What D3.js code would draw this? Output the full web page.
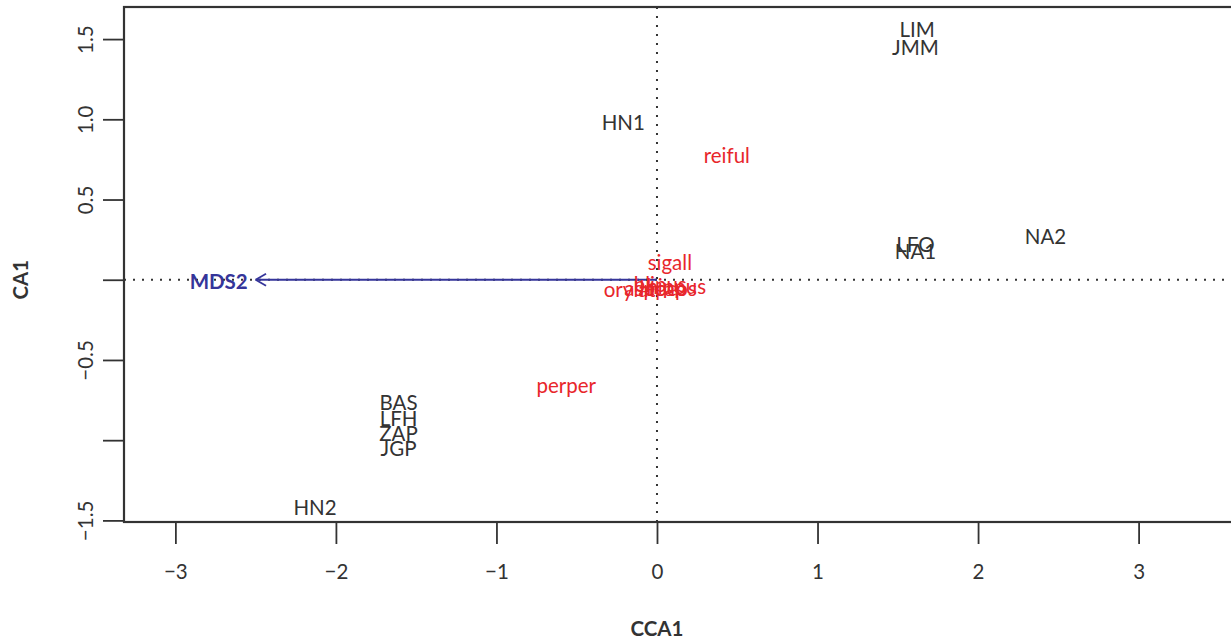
<!DOCTYPE html>
<html>
<head>
<meta charset="utf-8">
<script src="https://cdn.jsdelivr.net/npm/d3@7"></script>
<style>
  body { margin: 0; background: #fff; }
  svg { display: block; font-family: Lato, "Noto Sans", sans-serif; }
</style>
</head>
<body>
<svg id="chart" width="1231" height="643"></svg>
<script>
// ---- data ----
const siteNames = ["LIM", "JMM", "HN1", "LFO", "NA1", "NA2", "BAS", "LFH", "ZAP", "JGP", "HN2"];
const siteX     = [1.62, 1.61, -0.21, 1.61, 1.61, 2.42, -1.61, -1.61, -1.61, -1.61, -2.13];
const siteY     = [1.565, 1.45, 0.985, 0.225, 0.18, 0.27, -0.76, -0.86, -0.955, -1.05, -1.415];

const speciesNames = ["reiful", "perper", "sigall", "orylat", "aspcap", "blipus", "lepcos", "hippus"];
const speciesX     = [0.435, -0.565, 0.08, -0.17, -0.01, 0.02, 0.07, 0.12];
const speciesY     = [0.78, -0.655, 0.11, -0.055, -0.05, -0.025, -0.05, -0.04];

const envNames = ["MDS2"];
const envX     = [-2.50];
const envY     = [0.0];
const envLabelX = [-2.73];

const xTicks = [-3, -2, -1, 0, 1, 2, 3];
const yTicks = [-1.5, -1.0, -0.5, 0.0, 0.5, 1.0, 1.5];
const yTickLabels = ["\u22121.5", "", "\u22120.5", "", "0.5", "1.0", "1.5"];
const xTickLabels = ["\u22123", "\u22122", "\u22121", "0", "1", "2", "3"];

// ---- layout ----
const svg = d3.select("#chart");
const x = d3.scaleLinear().domain([-3.32, 3.75]).range([124, 1259]);
const y = d3.scaleLinear().domain([-1.51, 1.70]).range([522, 7]);
const axisColor = "#333";
const fs = 20.5;

// dotted reference lines
svg.append("line")
  .attr("x1", x(0)).attr("x2", x(0)).attr("y1", y(1.70)).attr("y2", y(-1.51))
  .attr("stroke", "#333").attr("stroke-width", 2).attr("stroke-dasharray", "2,7");
svg.append("line")
  .attr("x1", x(-3.32)).attr("x2", x(3.75)).attr("y1", y(0)).attr("y2", y(0))
  .attr("stroke", "#333").attr("stroke-width", 2).attr("stroke-dasharray", "2,7");

// axes
const xAxis = svg.append("g").attr("transform", `translate(0,${y(-1.51)})`)
  .call(d3.axisBottom(x).tickValues(xTicks).tickSize(22).tickPadding(20)
        .tickFormat((d, i) => xTickLabels[i]));
xAxis.select(".domain").remove();
xAxis.selectAll(".tick line").attr("stroke", axisColor).attr("stroke-width", 1.8);
xAxis.selectAll(".tick text").attr("fill", axisColor).attr("font-size", fs)
  .attr("font-family", "Lato, 'Noto Sans', sans-serif");

const yAxis = svg.append("g").attr("transform", `translate(${x(-3.32)},0)`)
  .call(d3.axisLeft(y).tickValues(yTicks).tickSize(21).tickPadding(0)
        .tickFormat((d, i) => yTickLabels[i]));
yAxis.select(".domain").remove();
yAxis.selectAll(".tick line").attr("stroke", axisColor).attr("stroke-width", 1.8);
yAxis.selectAll(".tick text")
  .attr("fill", axisColor).attr("font-size", fs)
  .attr("font-family", "Lato, 'Noto Sans', sans-serif")
  .attr("x", 0).attr("dy", null)
  .attr("text-anchor", "middle")
  .attr("dominant-baseline", "central")
  .attr("transform", "translate(-39,0) rotate(-90)");

// frame box
svg.append("rect")
  .attr("x", x(-3.32)).attr("y", y(1.70))
  .attr("width", x(3.75) - x(-3.32)).attr("height", y(-1.51) - y(1.70))
  .attr("fill", "none").attr("stroke", axisColor).attr("stroke-width", 2.2);

// axis titles
svg.append("text").attr("x", x(0)).attr("y", 628)
  .attr("text-anchor", "middle").attr("dominant-baseline", "central")
  .attr("font-size", fs).attr("font-weight", "bold").attr("fill", axisColor)
  .text("CCA1");
svg.append("text")
  .attr("transform", `translate(20,${y(0)}) rotate(-90)`)
  .attr("text-anchor", "middle").attr("dominant-baseline", "central")
  .attr("font-size", fs).attr("font-weight", "bold").attr("fill", axisColor)
  .text("CA1");

// environmental arrow
const blue = "#35359a";
envNames.forEach((n, i) => {
  const x0 = x(0), y0 = y(0), x1 = x(envX[i]), y1 = y(envY[i]);
  svg.append("line").attr("x1", x0).attr("y1", y0).attr("x2", x1).attr("y2", y1)
    .attr("stroke", blue).attr("stroke-width", 1.8);
  const ang = Math.atan2(y1 - y0, x1 - x0);
  const len = 12, spread = Math.PI / 6;
  [1, -1].forEach(s => {
    svg.append("line").attr("x1", x1).attr("y1", y1)
      .attr("x2", x1 - len * Math.cos(ang + s * spread))
      .attr("y2", y1 - len * Math.sin(ang + s * spread))
      .attr("stroke", blue).attr("stroke-width", 1.8);
  });
  svg.append("text").attr("x", x(envLabelX[i])).attr("y", y(envY[i]) + 1)
    .attr("text-anchor", "middle").attr("dominant-baseline", "central")
    .attr("font-size", fs).attr("font-weight", "bold").attr("fill", blue)
    .text(n);
});

// species labels
const red = "#e8262b";
svg.append("g").selectAll("text").data(speciesNames).join("text")
  .attr("x", (d, i) => x(speciesX[i])).attr("y", (d, i) => y(speciesY[i]))
  .attr("text-anchor", "middle").attr("dominant-baseline", "central")
  .attr("font-size", fs).attr("fill", red)
  .text(d => d);

// site labels
svg.append("g").selectAll("text").data(siteNames).join("text")
  .attr("x", (d, i) => x(siteX[i])).attr("y", (d, i) => y(siteY[i]))
  .attr("text-anchor", "middle").attr("dominant-baseline", "central")
  .attr("font-size", fs).attr("fill", "#333")
  .text(d => d);
</script>
</body>
</html>
